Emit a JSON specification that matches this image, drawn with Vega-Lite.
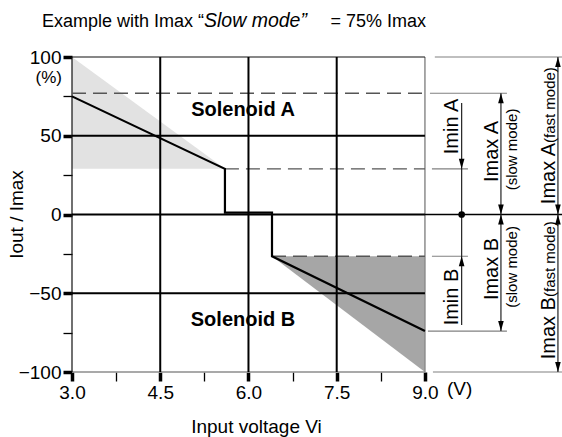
{
  "$schema": "https://vega.github.io/schema/vega-lite/v6.json",
  "width": 490,
  "height": 315,
  "autosize": {"type": "none"},
  "padding": {"left": 72, "top": 57, "right": 0, "bottom": 65},
  "background": "white",
  "config": {"font": "Liberation Sans", "view": {"stroke": null}},
  "datasets": {
    "slow": [{"i":1,"x":3,"y":75},{"i":2,"x":5.6,"y":29},{"i":3,"x":5.6,"y":1.2},{"i":4,"x":6.4,"y":1.2},{"i":5,"x":6.4,"y":-26.5},{"i":6,"x":9,"y":-74}],
    "fastA": [{"x":3,"y":100,"y2":29},{"x":5.6,"y":29,"y2":29}],
    "fastB": [{"x":6.4,"y":-26.5,"y2":-26.5},{"x":9,"y":-26.5,"y2":-100}],
    "gridV": [{"x":4.5,"x2":4.5,"y":100,"y2":-100},{"x":6,"x2":6,"y":100,"y2":-100},{"x":7.5,"x2":7.5,"y":100,"y2":-100}],
    "gridH": [{"x":3,"x2":9,"y":50,"y2":50},{"x":3,"x2":9,"y":0,"y2":0},{"x":3,"x2":9,"y":-50,"y2":-50}],
    "zeroExt": [{"x":9,"x2":11.33,"y":0,"y2":0}],
    "dashed": [{"x":3,"x2":9,"y":77,"y2":77},{"x":5.6,"x2":9,"y":29,"y2":29},{"x":6.4,"x2":9,"y":-26.5,"y2":-26.5}],
    "frameDark": [{"x":3,"x2":9,"y":100,"y2":100},{"x":3,"x2":3,"y":100,"y2":-100}],
    "frameLight": [{"x":9,"x2":9,"y":100,"y2":-100},{"x":3,"x2":9,"y":-100,"y2":-100}],
    "ext": [{"x":9.085,"x2":10.394,"y":77,"y2":77},{"x":9.119,"x2":9.731,"y":29,"y2":29},{"x":9.168,"x2":11.33,"y":100,"y2":100},{"x":9.119,"x2":9.731,"y":-26.5,"y2":-26.5},{"x":9.051,"x2":10.394,"y":-74,"y2":-74},{"x":9.136,"x2":11.33,"y":-100,"y2":-100}],
    "dims": [{"x":9.624,"x2":9.624,"y":70.8,"y2":-70.2},{"x":10.292,"x2":10.292,"y":77,"y2":-74},{"x":11.261,"x2":11.261,"y":100,"y2":-100}],
    "tipUp": [{"x":9.624,"y":-26.5},{"x":10.292,"y":77},{"x":10.292,"y":0},{"x":11.261,"y":100},{"x":11.261,"y":0}],
    "tipDown": [{"x":9.624,"y":29},{"x":10.292,"y":0},{"x":10.292,"y":-74},{"x":11.261,"y":0},{"x":11.261,"y":-100}],
    "dot": [{"x":9.624,"y":0}],
    "bigRot": [{"x":9.561,"y":55.9,"t":"Imin A"},{"x":10.241,"y":40,"t":"Imax A"},{"x":9.561,"y":-52.4,"t":"Imin B"},{"x":10.241,"y":-34.6,"t":"Imax B"}],
    "smallRot": [{"x":10.564,"y":41.3,"t":"(slow mode)"},{"x":10.564,"y":-33.3,"t":"(slow mode)"}],
    "fastBig": [{"x":11.21,"y":45.4,"t":"Imax A"},{"x":11.21,"y":-52.4,"t":"Imax B"}],
    "fastSmall": [{"x":11.21,"y":45.4,"t":"(fast mode)"},{"x":11.21,"y":-52.4,"t":"(fast mode)"}],
    "title1": [{"x":2.49,"y":119.2,"t":"Example with Imax “"}],
    "title2": [{"x":5.244,"y":119.2,"t":"Slow mode”"}],
    "title3": [{"x":9.017,"y":119.2,"t":"= 75% Imax"}],
    "sol": [{"x":5.907,"y":62.5,"t":"Solenoid A"},{"x":5.907,"y":-70.8,"t":"Solenoid B"}],
    "unitY": [{"x":2.83,"y":86.8,"t":"(%)"}],
    "unitX": [{"x":9.374,"y":-114.6,"t":"(V)"}]
  },
  "encoding": {
    "x": {
      "field": "x", "type": "quantitative",
      "scale": {"domain": [3, 11.33], "nice": false, "zero": false},
      "axis": {
        "values": [3, 3.75, 4.5, 5.25, 6, 6.75, 7.5, 8.25, 9],
        "labelExpr": "(datum.value * 2) % 3 === 0 ? format(datum.value, '.1f') : ''",
        "grid": false, "domain": false,
        "tickSize": 9, "tickColor": "black",
        "tickWidth": {"condition": {"test": "(datum.value * 2) % 3 === 0", "value": 3.5}, "value": 1.3},
        "labelFontSize": 19, "labelColor": "black", "labelPadding": 2,
        "labelFlush": false, "labelOverlap": false,
        "title": "Input voltage Vi", "titleFontSize": 19, "titleFontWeight": "normal", "titleColor": "black",
        "titleX": 184, "titleY": 60, "titleAlign": "center", "titleBaseline": "alphabetic"
      }
    },
    "y": {
      "field": "y", "type": "quantitative",
      "scale": {"domain": [-100, 100], "nice": false, "zero": false},
      "axis": {
        "values": [-100, -75, -50, -25, 0, 25, 50, 75, 100],
        "labelExpr": "datum.value % 50 === 0 ? (datum.value < 0 ? '−' + abs(datum.value) : '' + datum.value) : ''",
        "grid": false, "domain": false,
        "tickSize": 9, "tickColor": "black",
        "tickWidth": {"condition": {"test": "datum.value % 50 === 0", "value": 3.5}, "value": 1.3},
        "labelFontSize": 19, "labelColor": "black", "labelPadding": 2, "labelOverlap": false,
        "title": "Iout / Imax", "titleFontSize": 19, "titleFontWeight": "normal", "titleColor": "black",
        "titleX": -50, "titleY": 157, "titleAngle": 270, "titleAlign": "center", "titleBaseline": "alphabetic"
      }
    }
  },
  "layer": [
    {"data": {"name": "fastA"}, "mark": {"type": "area", "color": "#e2e2e2"}, "encoding": {"y2": {"field": "y2"}}},
    {"data": {"name": "fastB"}, "mark": {"type": "area", "color": "#a6a6a6"}, "encoding": {"y2": {"field": "y2"}}},
    {"data": {"name": "frameLight"}, "mark": {"type": "rule", "color": "#8c8c8c", "strokeWidth": 1.5}, "encoding": {"x2": {"field": "x2"}, "y2": {"field": "y2"}}},
    {"data": {"name": "frameDark"}, "mark": {"type": "rule", "color": "#111", "strokeWidth": 1.2}, "encoding": {"x2": {"field": "x2"}, "y2": {"field": "y2"}}},
    {"data": {"name": "dashed"}, "mark": {"type": "rule", "color": "#555", "strokeWidth": 1.4, "strokeDash": [14, 7]}, "encoding": {"x2": {"field": "x2"}, "y2": {"field": "y2"}}},
    {"data": {"name": "gridV"}, "mark": {"type": "rule", "color": "black", "strokeWidth": 2}, "encoding": {"x2": {"field": "x2"}, "y2": {"field": "y2"}}},
    {"data": {"name": "gridH"}, "mark": {"type": "rule", "color": "black", "strokeWidth": 2}, "encoding": {"x2": {"field": "x2"}, "y2": {"field": "y2"}}},
    {"data": {"name": "zeroExt"}, "mark": {"type": "rule", "color": "black", "strokeWidth": 1.4}, "encoding": {"x2": {"field": "x2"}, "y2": {"field": "y2"}}},
    {"data": {"name": "ext"}, "mark": {"type": "rule", "color": "#808080", "strokeWidth": 1.2}, "encoding": {"x2": {"field": "x2"}, "y2": {"field": "y2"}}},
    {"data": {"name": "dims"}, "mark": {"type": "rule", "color": "#222", "strokeWidth": 1.2}, "encoding": {"x2": {"field": "x2"}, "y2": {"field": "y2"}}},
    {"data": {"name": "slow"}, "mark": {"type": "line", "color": "black", "strokeWidth": 2.2, "strokeJoin": "miter"}, "encoding": {"order": {"field": "i"}}},
    {"data": {"name": "tipUp"}, "mark": {"type": "point", "shape": "M0,0L-0.28,1L0.28,1Z", "size": 400, "filled": true, "color": "black", "opacity": 1}},
    {"data": {"name": "tipDown"}, "mark": {"type": "point", "shape": "M0,0L-0.28,-1L0.28,-1Z", "size": 400, "filled": true, "color": "black", "opacity": 1}},
    {"data": {"name": "dot"}, "mark": {"type": "point", "shape": "circle", "size": 45, "filled": true, "color": "black", "opacity": 1}},
    {"data": {"name": "bigRot"}, "mark": {"type": "text", "angle": 270, "align": "center", "baseline": "alphabetic", "fontSize": 20, "color": "black"}, "encoding": {"text": {"field": "t"}}},
    {"data": {"name": "smallRot"}, "mark": {"type": "text", "angle": 270, "align": "center", "baseline": "alphabetic", "fontSize": 15, "color": "black"}, "encoding": {"text": {"field": "t"}}},
    {"data": {"name": "fastBig"}, "mark": {"type": "text", "angle": 270, "align": "right", "baseline": "alphabetic", "fontSize": 20, "color": "black"}, "encoding": {"text": {"field": "t"}}},
    {"data": {"name": "fastSmall"}, "mark": {"type": "text", "angle": 270, "align": "left", "baseline": "alphabetic", "fontSize": 15, "color": "black"}, "encoding": {"text": {"field": "t"}}},
    {"data": {"name": "title1"}, "mark": {"type": "text", "align": "left", "baseline": "alphabetic", "fontSize": 18, "color": "black"}, "encoding": {"text": {"field": "t"}}},
    {"data": {"name": "title2"}, "mark": {"type": "text", "align": "left", "baseline": "alphabetic", "fontSize": 19.5, "fontStyle": "italic", "color": "black"}, "encoding": {"text": {"field": "t"}}},
    {"data": {"name": "title3"}, "mark": {"type": "text", "align": "right", "baseline": "alphabetic", "fontSize": 18, "color": "black"}, "encoding": {"text": {"field": "t"}}},
    {"data": {"name": "sol"}, "mark": {"type": "text", "align": "center", "baseline": "alphabetic", "fontSize": 20, "fontWeight": "bold", "color": "black"}, "encoding": {"text": {"field": "t"}}},
    {"data": {"name": "unitY"}, "mark": {"type": "text", "align": "right", "baseline": "middle", "fontSize": 17, "color": "black"}, "encoding": {"text": {"field": "t"}}},
    {"data": {"name": "unitX"}, "mark": {"type": "text", "align": "left", "baseline": "alphabetic", "fontSize": 19, "color": "black"}, "encoding": {"text": {"field": "t"}}}
  ]
}
